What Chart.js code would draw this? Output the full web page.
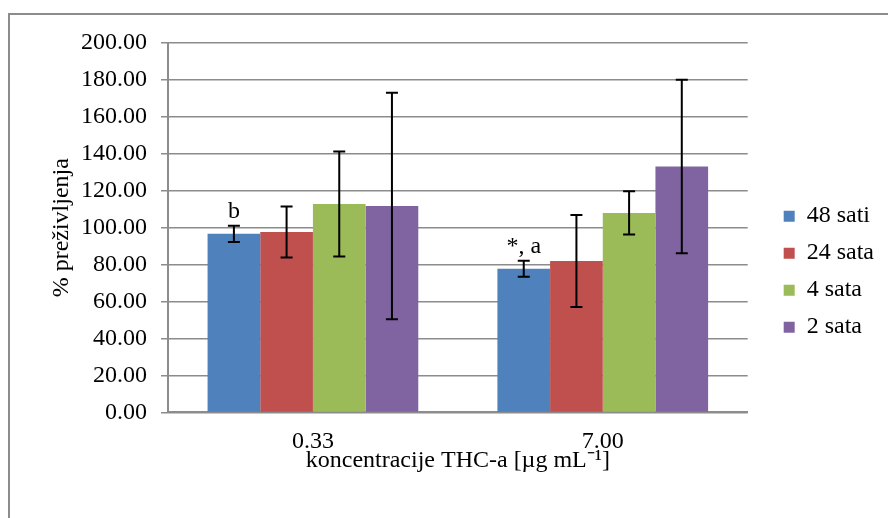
<!DOCTYPE html>
<html>
<head>
<meta charset="utf-8">
<script src="https://cdn.jsdelivr.net/npm/chart.js@4"></script>
<style>
  html, body { margin: 0; padding: 0; background: #fff; }
</style>
</head>
<body>
<canvas id="barChart" width="888" height="518"></canvas>
<script>
const categories = ['0.33', '7.00'];
const seriesNames = ['48 sati', '24 sata', '4 sata', '2 sata'];
const sati48 = [96.7, 77.8];
const sata24 = [97.7, 82.0];
const sata4 = [112.8, 108.0];
const sata2 = [111.8, 133.1];
const err48 = [4.4, 4.3];
const err24 = [13.8, 24.9];
const err4 = [28.4, 11.7];
const err2 = [61.3, 47.0];
const letters48 = ['b', '*, a'];

const serif = '"Liberation Serif", "Times New Roman", serif';
const gray = '#8c8c8c';
const txtFont = { family: serif, size: 24 };

// outer frame (only left and top edges show in the picture)
const framePlugin = {
    id: 'frame',
    beforeDraw(chart) {
        const c = chart.ctx;
        c.save();
        c.strokeStyle = gray;
        c.lineWidth = 2;
        c.beginPath();
        c.moveTo(9, chart.height);
        c.lineTo(9, 14);
        c.lineTo(chart.width, 14);
        c.stroke();
        c.restore();
    }
};

const errorBarPlugin = {
    id: 'errorBars',
    afterDatasetsDraw(chart) {
        const c = chart.ctx;
        const y = chart.scales.y;
        c.save();
        c.strokeStyle = '#000';
        c.lineWidth = 2;
        chart.data.datasets.forEach((ds, i) => {
            const meta = chart.getDatasetMeta(i);
            meta.data.forEach((bar, j) => {
                const v = ds.data[j], e = ds.errors[j];
                const top = y.getPixelForValue(v + e);
                const bot = y.getPixelForValue(v - e);
                c.beginPath();
                c.moveTo(bar.x, top); c.lineTo(bar.x, bot);
                c.moveTo(bar.x - 6, top); c.lineTo(bar.x + 6, top);
                c.moveTo(bar.x - 6, bot); c.lineTo(bar.x + 6, bot);
                c.stroke();
            });
        });
        c.restore();
    }
};

const letterPlugin = {
    id: 'letters',
    afterDatasetsDraw(chart) {
        const c = chart.ctx;
        const y = chart.scales.y;
        const meta = chart.getDatasetMeta(0);
        c.save();
        c.fillStyle = '#000';
        c.font = '24px ' + serif;
        c.textAlign = 'center';
        c.textBaseline = 'alphabetic';
        meta.data.forEach((bar, j) => {
            const top = y.getPixelForValue(sati48[j] + err48[j]);
            c.fillText(letters48[j], bar.x, top - 8);
        });
        c.restore();
    }
};

new Chart(document.getElementById('barChart'), {
    type: 'bar',
    data: {
        labels: categories,
        datasets: [
            { label: seriesNames[0], data: sati48, errors: err48, backgroundColor: '#4f81bd' },
            { label: seriesNames[1], data: sata24, errors: err24, backgroundColor: '#c0504d' },
            { label: seriesNames[2], data: sata4, errors: err4, backgroundColor: '#9bbb59' },
            { label: seriesNames[3], data: sata2, errors: err2, backgroundColor: '#8064a2' }
        ]
    },
    options: {
        responsive: false,
        animation: false,
        categoryPercentage: 0.727,
        barPercentage: 1.0,
        layout: { padding: { left: 40, top: 43, right: 4, bottom: 43 } },
        scales: {
            x: {
                grid: { display: false, drawTicks: false },
                border: { display: true, color: gray, width: 2 },
                ticks: { font: txtFont, color: '#000', padding: 15 },
                title: {
                    display: true,
                    text: 'koncentracije THC-a [\u00b5g mL\u207b\u00b9]',
                    font: txtFont, color: '#000',
                    padding: { top: -25, bottom: 0 }
                }
            },
            y: {
                min: 0, max: 200,
                ticks: {
                    stepSize: 20, font: txtFont, color: '#000', padding: 14,
                    callback: v => v.toFixed(2)
                },
                grid: { color: gray, lineWidth: 1.5, tickLength: 7 },
                border: { color: gray, width: 2 },
                title: {
                    display: true, text: '% preživljenja',
                    font: txtFont, color: '#000',
                    padding: { top: 7, bottom: 0 }
                },
                afterFit(scale) { scale.width = 128; }
            },
            gap: {
                type: 'linear', position: 'right',
                grid: { display: false, drawTicks: false },
                border: { display: false },
                ticks: { display: false },
                afterFit(scale) { scale.width = 23; }
            }
        },
        plugins: {
            tooltip: { enabled: false },
            legend: {
                position: 'right',
                align: 'start',
                title: { display: true, text: ' ', font: { size: 1 }, padding: { top: 147, bottom: 0 } },
                labels: { boxWidth: 11, boxHeight: 11, padding: 13, font: txtFont, color: '#000' }
            }
        }
    },
    plugins: [framePlugin, errorBarPlugin, letterPlugin]
});
</script>
</body>
</html>
